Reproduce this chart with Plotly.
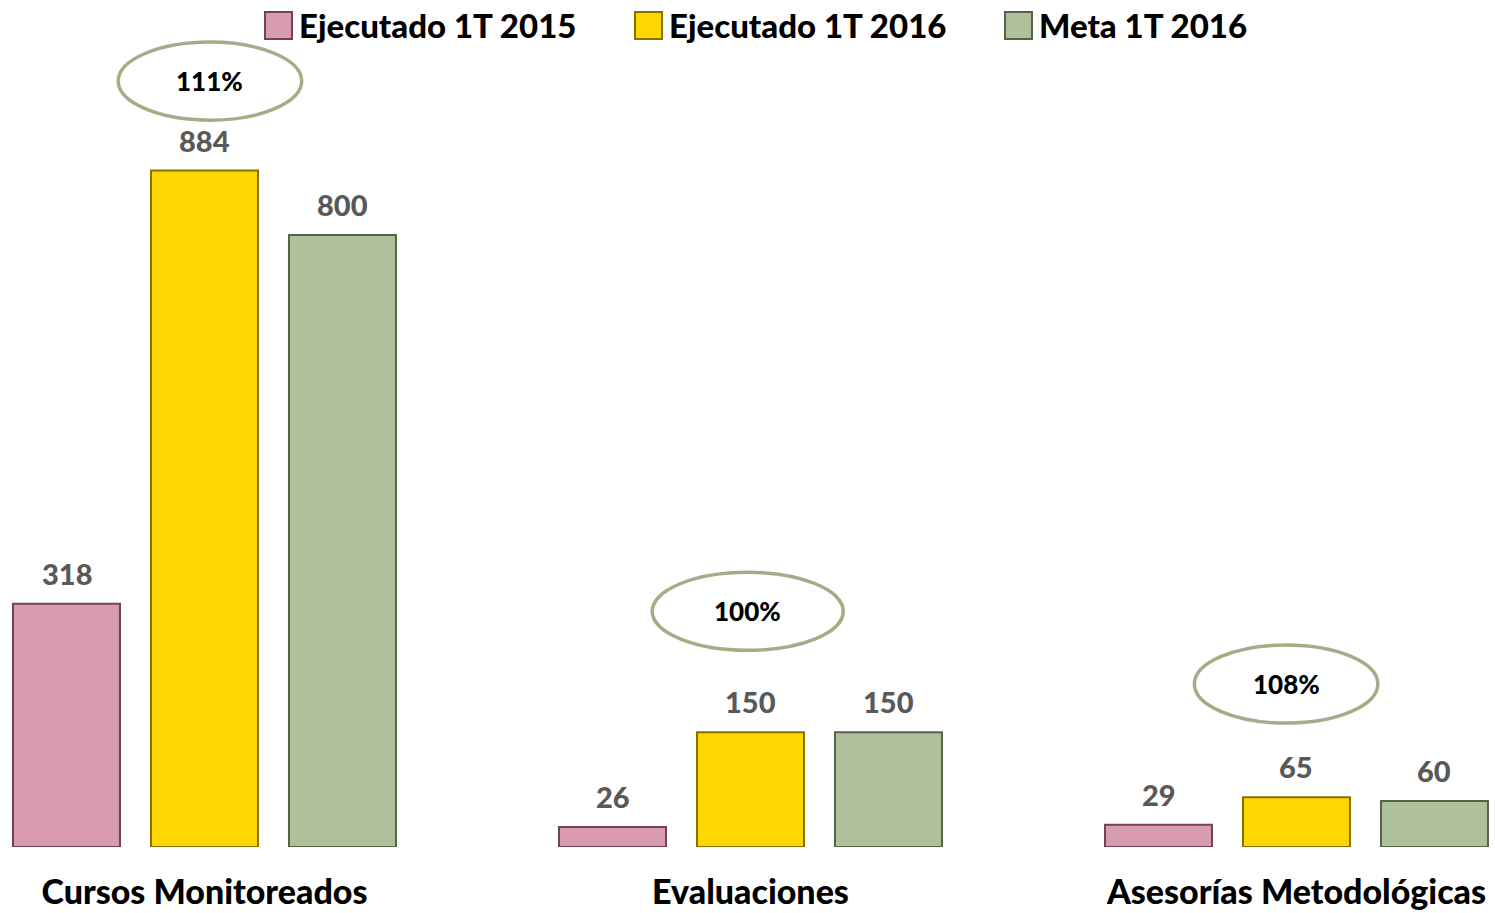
import plotly.graph_objects as go

# Chart data
categories = ["Cursos Monitoreados", "Evaluaciones", "Asesorías Metodológicas"]
series_names = ["Ejecutado 1T 2015", "Ejecutado 1T 2016", "Meta 1T 2016"]
ejecutado_2015 = [318, 26, 29]
ejecutado_2016 = [884, 150, 65]
meta_2016 = [800, 150, 60]
cumplimiento = ["111%", "100%", "108%"]

series_values = [ejecutado_2015, ejecutado_2016, meta_2016]
fill_colors = ["#D99BB0", "#FFD700", "#AEC19B"]
edge_colors = ["#6E4352", "#857000", "#56624A"]

FONT = "Lato"
BOLD = 900
W, H = 1495, 913
B = 66  # bottom margin -> plot spans pixel rows 0..847
x_idx = list(range(len(categories)))

fig = go.Figure()

for name, vals, fc, ec in zip(series_names, series_values, fill_colors, edge_colors):
    fig.add_trace(go.Bar(
        x=x_idx, y=vals, name=name,
        marker=dict(color=fc, line=dict(color=ec, width=2)),
        hoverinfo="skip",
    ))

# value labels above each bar
slot = 0.2527
for j, vals in enumerate(series_values):
    for i, v in enumerate(vals):
        fig.add_annotation(
            x=i + (j - 1) * slot, y=v, text=str(v),
            showarrow=False, yanchor="bottom", yshift=11,
            font=dict(family=FONT, size=29, color="#595959", weight=BOLD),
        )

# ellipses with percentage of goal achieved
ellipse_pos = [(0.01, 1001, 0.168), (0.995, 308, 0.175), (1.981, 213, 0.168)]
for (cx, cy, rx), pct in zip(ellipse_pos, cumplimiento):
    ry = 51
    fig.add_shape(type="circle", xref="x", yref="y",
                  x0=cx - rx, x1=cx + rx, y0=cy - ry, y1=cy + ry,
                  line=dict(color="#A3AE88", width=3.5), fillcolor="white", layer="above")
    fig.add_annotation(x=cx, y=cy, text=pct, showarrow=False,
                       font=dict(family=FONT, size=26, color="black", weight=BOLD))

# hand-made legend (plotly caps legend symbol size)
ph = H - B
def py(pix):
    return (ph - pix) / ph

leg_x0, leg_step, sym = 265, 370, 27
for k, (name, fc, ec) in enumerate(zip(series_names, fill_colors, edge_colors)):
    x0 = leg_x0 + k * leg_step
    fig.add_shape(type="rect", xref="paper", yref="paper",
                  x0=x0 / W, x1=(x0 + sym) / W, y0=py(12 + sym), y1=py(12),
                  fillcolor=fc, line=dict(color=ec, width=2))
    fig.add_annotation(xref="paper", yref="paper", x=(x0 + sym + 5) / W, y=py(25),
                       xanchor="left", yanchor="middle", text=name, showarrow=False,
                       font=dict(family=FONT, size=33, color="black", weight=BOLD))

fig.update_layout(
    width=W, height=H,
    margin=dict(l=0, r=0, t=0, b=B),
    plot_bgcolor="white", paper_bgcolor="white",
    barmode="group", bargap=0.2418, bargroupgap=0.2246,
    font=dict(family=FONT),
    showlegend=False,
)
fig.update_xaxes(
    tickmode="array", tickvals=x_idx, ticktext=categories,
    range=[-0.3745, 2.3636], showgrid=False, zeroline=False, showline=False,
    ticks="", ticklabelstandoff=22, automargin=False,
    tickfont=dict(family=FONT, size=34, color="black", weight=BOLD),
)
fig.update_yaxes(range=[0, 1107], visible=False, showgrid=False)

fig.write_html("out.html", config={"displayModeBar": False},
               post_script="document.body.style.margin='0';")
